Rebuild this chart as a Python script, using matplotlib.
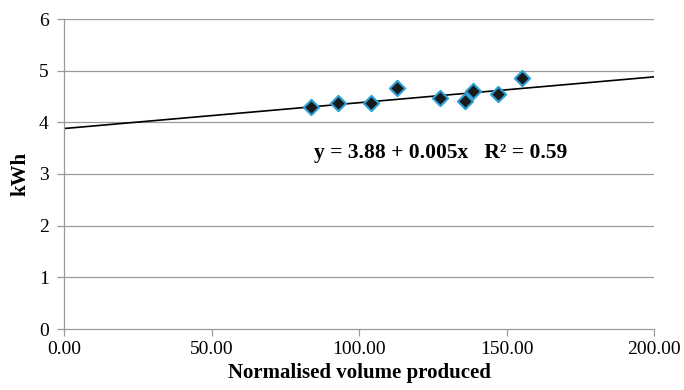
import matplotlib
matplotlib.use('Agg')
import matplotlib.pyplot as plt
import numpy as np

# valores
volume = [83.7, 92.8, 104.1, 112.8, 127.5, 136.0, 138.8, 147.2, 155.3]
kwh = [4.29, 4.37, 4.37, 4.66, 4.47, 4.42, 4.61, 4.54, 4.86]
intercept = 3.88
slope = 0.005
x_ticks = [0, 50, 100, 150, 200]
y_ticks = [0, 1, 2, 3, 4, 5, 6]

plt.rcParams['font.family'] = ['Liberation Serif', 'DejaVu Serif']

fig = plt.figure(figsize=(6.84, 3.9), dpi=100)
ax = fig.add_axes([64 / 684, 1 - 329 / 390, 590 / 684, 310 / 390])

grid_color = '#9a9a9a'
for yt in y_ticks[1:]:
    ax.axhline(yt, color=grid_color, linewidth=0.9, zorder=0)

# linha de tendencia
xl = np.array([0, 200])
ax.plot(xl, intercept + slope * xl, color='black', linewidth=1.2, zorder=2)

ax.scatter(volume, kwh, marker='D', s=60, facecolor='#1a1a1a',
           edgecolor='#2a9fd8', linewidth=1.5, zorder=3)

ax.text(127.5, 3.4, 'y = 3.88 + 0.005x   R² = 0.59', ha='center', va='center',
        fontsize=15.5, fontweight='bold')

ax.set_xlim(0, 200)
ax.set_ylim(0, 6)
ax.set_xticks(x_ticks)
ax.set_xticklabels([f'{v:.2f}' for v in x_ticks])
ax.set_yticks(y_ticks)

for s in ['top', 'right']:
    ax.spines[s].set_visible(False)
for s in ['left', 'bottom']:
    ax.spines[s].set_color(grid_color)
    ax.spines[s].set_linewidth(0.9)

ax.tick_params(axis='both', colors=grid_color, labelcolor='black',
               labelsize=14, length=5, width=0.9)
ax.tick_params(axis='x', pad=4)
ax.tick_params(axis='y', pad=6)

ax.set_xlabel('Normalised volume produced', fontsize=15, fontweight='bold', labelpad=3)
ax.set_ylabel('kWh', fontsize=15, fontweight='bold', labelpad=6)

plt.savefig('out.png', dpi=100)
plt.close()
